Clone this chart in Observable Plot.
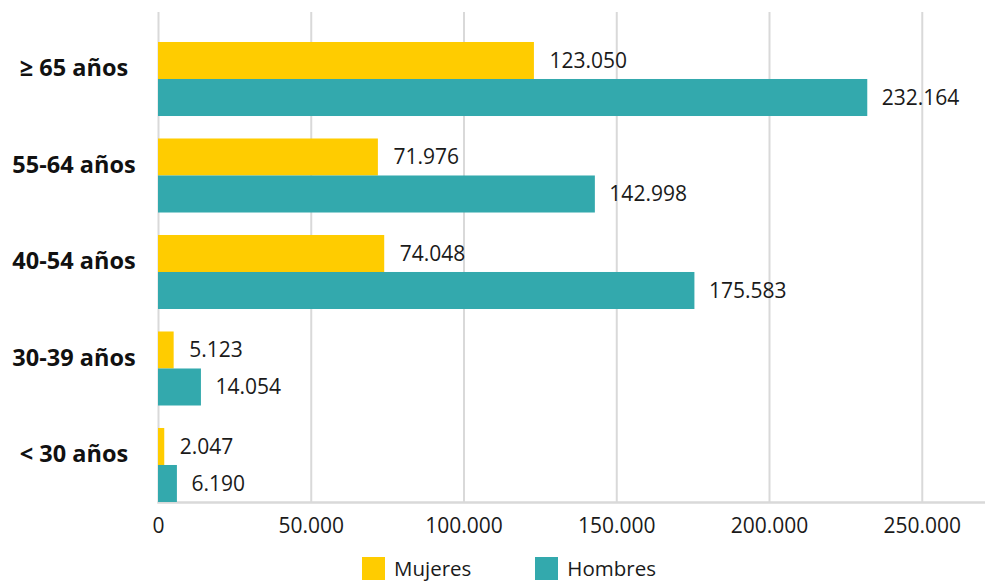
<!DOCTYPE html>
<html>
<head>
<meta charset="utf-8">
<script src="https://cdn.jsdelivr.net/npm/d3@7"></script>
<script src="https://cdn.jsdelivr.net/npm/@observablehq/plot@0.6"></script>
<style>
  html, body { margin: 0; padding: 0; background: #fff; }
  body { font-family: "Open Sans", sans-serif; width: 985px; height: 583px; overflow: hidden; }
  #legend { display: flex; align-items: center; margin-left: 362px; padding-top: 9px; font-size: 20.5px; color: #1a1a1a; }
  .item { display: flex; align-items: center; margin-right: 64px; }
  .item span { line-height: 1; }
  .sw { width: 23px; height: 23px; margin-right: 9px; }
</style>
</head>
<body>
<div id="chart"></div>
<div id="legend"></div>
<script>
const categories = ["≥ 65 años", "55-64 años", "40-54 años", "30-39 años", "< 30 años"];
const mujeres = [123050, 71976, 74048, 5123, 2047];
const hombres = [232164, 142998, 175583, 14054, 6190];
const xTicks = [0, 50000, 100000, 150000, 200000, 250000];
const seriesNames = ["Mujeres", "Hombres"];
const seriesColors = ["#ffcc00", "#33a9ad"];

const locale = d3.formatLocale({decimal: ",", thousands: ".", grouping: [3], currency: ["", " €"]});
const fmt = locale.format(",d");

const rowsM = categories.map((c, i) => ({cat: c, value: mujeres[i]}));
const rowsH = categories.map((c, i) => ({cat: c, value: hombres[i]}));

const H = 548;
const chart = Plot.plot({
  width: 985,
  height: H,
  marginTop: 12,
  marginBottom: 46,
  marginLeft: 158,
  marginRight: 0,
  style: {fontFamily: "Open Sans", color: "#1a1a1a", background: "#fff"},
  x: {domain: [0, 270700], axis: null},
  y: {domain: categories, paddingInner: 0.233, paddingOuter: 0.1554, align: 1, round: false, axis: null},
  marks: [
    Plot.gridX(xTicks, {stroke: "#d9d9d9", strokeOpacity: 1, strokeWidth: 2}),
    Plot.frame({anchor: "bottom", stroke: "#d9d9d9", strokeWidth: 2.5}),
    Plot.barX(rowsM, {y: "cat", x: "value", fill: seriesColors[0], insetBottom: 37}),
    Plot.barX(rowsH, {y: "cat", x: "value", fill: seriesColors[1], insetTop: 37}),
    Plot.text(rowsM, {y: "cat", x: "value", text: d => fmt(d.value), textAnchor: "start", dx: 15, dy: -18.5, fontSize: 21, fill: "#1a1a1a"}),
    Plot.text(rowsH, {y: "cat", x: "value", text: d => fmt(d.value), textAnchor: "start", dx: 14, dy: 18.5, fontSize: 21, fill: "#1a1a1a"}),
    Plot.axisX({ticks: xTicks, tickFormat: fmt, tickSize: 0, tickPadding: 16, fontSize: 21, label: null, fill: "#1a1a1a"}),
    Plot.axisY({tickSize: 0, tickPadding: 84.5, textAnchor: "middle", fontSize: 23.5, fontWeight: "bold", dy: -11, label: null, fill: "#111"})
  ]
});
document.getElementById("chart").appendChild(chart);

const legend = document.getElementById("legend");
seriesNames.forEach((name, i) => {
  const item = document.createElement("div");
  item.className = "item";
  const sw = document.createElement("div");
  sw.className = "sw";
  sw.style.background = seriesColors[i];
  const t = document.createElement("span");
  t.textContent = name;
  item.appendChild(sw);
  item.appendChild(t);
  legend.appendChild(item);
});
</script>
</body>
</html>
